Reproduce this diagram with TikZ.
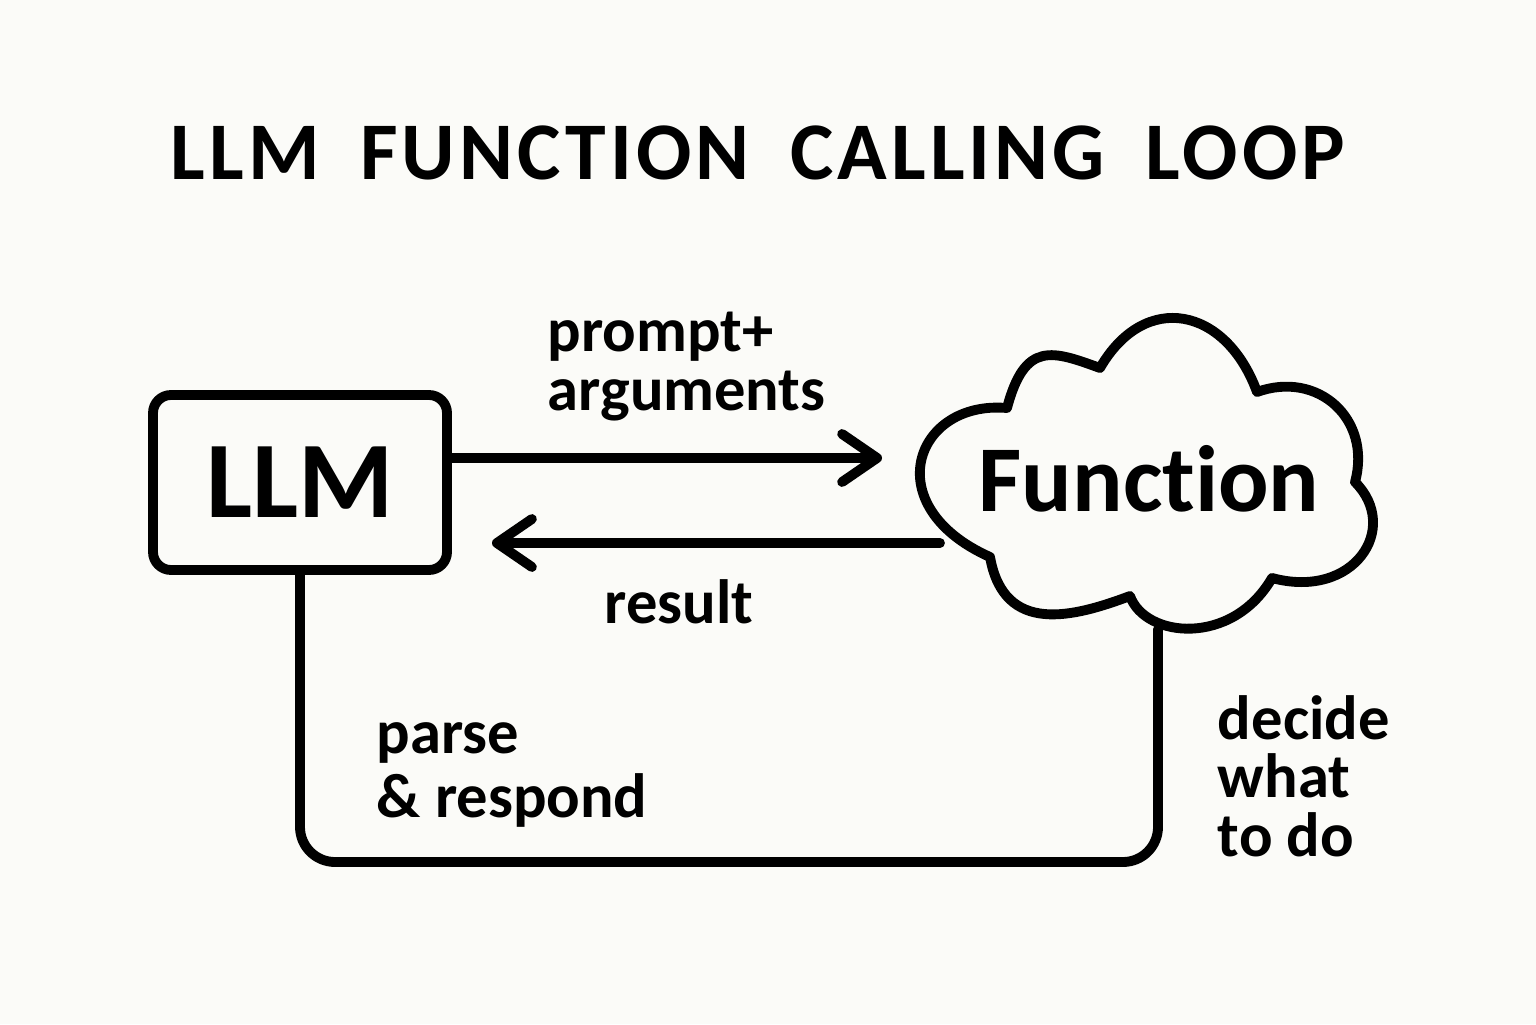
\documentclass[tikz,border=0pt]{standalone}
\usepackage{fontspec}
\setmainfont{Carlito}[Ligatures=NoCommon]
\newfontfamily\titlefont[LetterSpace=5, WordSpace=1.8, Ligatures=NoCommon]{Carlito}
\usetikzlibrary{arrows.meta, calc}

\definecolor{paper}{HTML}{FBFBF8}

\begin{document}
\begin{tikzpicture}[>={Straight Barb[length=3.5mm, width=4.8mm, round]}, line width=2.8pt, line cap=round, line join=round,
  lbl/.style={font=\fontsize{17.8}{16.6}\selectfont\bfseries, align=left, inner sep=0pt, anchor=base west}]
  % papel
  \fill[paper] (0,0) rectangle (15.36,10.24);
  \useasboundingbox (0,0) rectangle (15.36,10.24);
  \node[inner sep=0pt, anchor=base] (title) at (7.58,8.44){\titlefont\fontsize{23.3}{28}\selectfont\bfseries LLM FUNCTION CALLING LOOP};

  % LLM box
  \node[draw, rounded corners=1.8mm, minimum width=2.94cm, minimum height=1.75cm, inner sep=0pt,
        font=\fontsize{31}{36}\selectfont\bfseries] (llm) at (3.00,5.415){LLM};

  % cloud around Function
  \draw (10.07,6.16) .. controls (10.25,6.84) and (10.53,6.73) .. (11.00,6.56)
        .. controls (11.45,7.34) and (12.26,7.17) .. (12.57,6.32)
        .. controls (13.18,6.54) and (13.72,6.05) .. (13.55,5.42)
        .. controls (14.01,4.96) and (13.54,4.24) .. (12.72,4.46)
        .. controls (12.32,3.77) and (11.45,3.86) .. (11.30,4.28)
        .. controls (10.74,4.07) and (10.04,3.88) .. (9.90,4.67)
        .. controls (8.76,5.18) and (9.15,6.24) .. (10.07,6.16) -- cycle;
  \node[inner sep=0pt, font=\fontsize{26.8}{32}\selectfont\bfseries] (func) at (11.49,5.45){Function};
  \coordinate (cloudleft) at (9.40,4.81);
  \coordinate (cloudfoot) at (11.58,3.95);

  % arrows
  \coordinate (fwdtip) at (8.82,5.66);
  \coordinate (rettip) at (4.92,4.81);
  \draw[->] ([yshift=2.45mm]llm.east) -- (fwdtip);
  \draw[->] (cloudleft) -- (rettip);

  % loop back
  \coordinate (loopcorner) at (3.00,1.62);
  \draw[rounded corners=3.5mm] (llm.south) -- (loopcorner) -| (cloudfoot);

  % labels
  \node[lbl] (lblprompt) at (5.43,6.14){prompt+\\arguments};
  \node[lbl] (lblresult) at (6.00,4.01){result};
  \node[lbl, font=\fontsize{17.8}{18.2}\selectfont\bfseries] (lblparse) at (3.72,2.07){parse\\\& respond};
  \node[lbl] (lbldecide) at (12.13,1.68){decide\\what\\to do};
\end{tikzpicture}
\end{document}
